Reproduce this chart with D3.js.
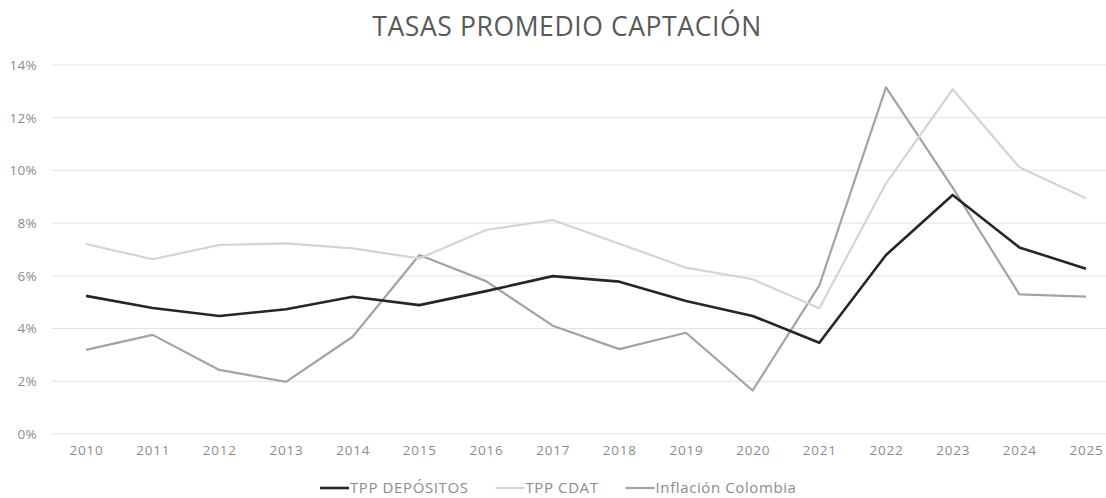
<!DOCTYPE html>
<html>
<head>
<meta charset="utf-8">
<script src="https://cdn.jsdelivr.net/npm/d3@7"></script>
<style>
  body { margin: 0; background: #fff; }
  svg { display: block; font-family: "Open Sans", sans-serif; }
</style>
</head>
<body>
<div id="chart"></div>
<script>
const years = ["2010","2011","2012","2013","2014","2015","2016","2017","2018","2019","2020","2021","2022","2023","2024","2025"];
const tppDepositos = [5.24, 4.78, 4.48, 4.73, 5.21, 4.89, 5.42, 5.99, 5.78, 5.05, 4.48, 3.46, 6.79, 9.07, 7.08, 6.27];
const tppCdat = [7.21, 6.63, 7.17, 7.23, 7.04, 6.66, 7.74, 8.12, 7.22, 6.31, 5.87, 4.77, 9.51, 13.08, 10.12, 8.94];
const inflacion = [3.19, 3.76, 2.43, 1.98, 3.69, 6.79, 5.8, 4.11, 3.22, 3.84, 1.65, 5.64, 13.15, 9.35, 5.3, 5.21];
const yTicks = [0, 2, 4, 6, 8, 10, 12, 14];

const seriesList = [
    { name: "TPP DEPÓSITOS", values: tppDepositos, color: "#262626", width: 2.6 },
    { name: "TPP CDAT", values: tppCdat, color: "#d4d4d4", width: 2.2 },
    { name: "Inflación Colombia", values: inflacion, color: "#a3a3a3", width: 2.2 }
];

function buildChart() {
    const W = 1106, H = 498;
    const svg = d3.select("#chart").append("svg")
        .attr("width", W)
        .attr("height", H);

    // plot area
    const x = d3.scalePoint().domain(years).range([86, 1086]);
    const y = d3.scaleLinear().domain([0, 14]).range([434, 65]);

    // gridlines
    svg.append("g")
        .selectAll("line")
        .data(yTicks)
        .enter().append("line")
        .attr("x1", 52)
        .attr("x2", 1120)
        .attr("y1", d => y(d))
        .attr("y2", d => y(d))
        .attr("stroke", "#e2e2e2")
        .attr("stroke-width", 1);

    // y axis
    const yAxis = svg.append("g")
        .attr("transform", "translate(37,0)")
        .call(d3.axisLeft(y).tickValues(yTicks).tickSize(0).tickPadding(0).tickFormat(d => d + "%"));
    yAxis.select(".domain").remove();
    yAxis.selectAll("text")
        .attr("fill", "#8c8c8c")
        .style("font-size", "13.5px")
        .style("letter-spacing", "0.3px")
        .style("font-family", "Open Sans, sans-serif");

    // x axis
    const xAxis = svg.append("g")
        .attr("transform", "translate(0,445)")
        .call(d3.axisBottom(x).tickSize(0).tickPadding(0));
    xAxis.select(".domain").remove();
    xAxis.selectAll("text")
        .attr("fill", "#8c8c8c")
        .style("font-size", "13.5px")
        .style("letter-spacing", "0.8px")
        .style("font-family", "Open Sans, sans-serif");

    // lines
    const line = d3.line()
        .x((d, i) => x(years[i]))
        .y(d => y(d));

    svg.append("g")
        .selectAll("path")
        .data(seriesList.slice().reverse())
        .enter().append("path")
        .attr("d", d => line(d.values))
        .attr("fill", "none")
        .attr("stroke", d => d.color)
        .attr("stroke-width", d => d.width)
        .attr("stroke-linejoin", "round");

    // title
    svg.append("text")
        .attr("x", 567)
        .attr("y", 36)
        .attr("text-anchor", "middle")
        .attr("fill", "#595959")
        .style("font-size", "26.5px")
        .style("letter-spacing", "0.6px")
        .text("TASAS PROMEDIO CAPTACIÓN");

    // legend
    const legend = svg.append("g");
    let cursor = 320;
    seriesList.forEach((s, i) => {
        const item = legend.append("g");
        item.append("line")
            .attr("x1", cursor)
            .attr("x2", cursor + 29)
            .attr("y1", 488)
            .attr("y2", 488)
            .attr("stroke", s.color)
            .attr("stroke-width", s.width);
        const t = item.append("text")
            .attr("x", cursor + 30)
            .attr("y", 493)
            .attr("fill", "#8c8c8c")
            .style("font-size", "15px")
            .style("letter-spacing", "0.6px")
            .text(s.name);
        cursor += 30 + t.node().getComputedTextLength() + 27;
    });
}

window.addEventListener("load", buildChart);
</script>
</body>
</html>
